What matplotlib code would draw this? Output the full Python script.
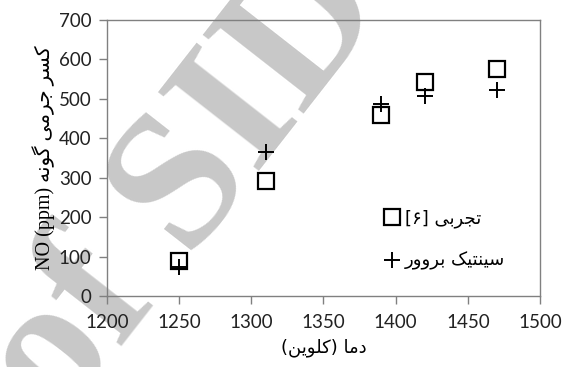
import matplotlib
matplotlib.use("Agg")
import matplotlib.pyplot as plt

# ---- data -------------------------------------------------------------------
temp_exp = [1250, 1310, 1390, 1420, 1470]
no_exp = [88, 292, 459, 543, 575]          # experiment [6]
temp_model = [1250, 1310, 1390, 1420, 1470]
no_model = [75, 364, 488, 508, 523]         # Brouwer kinetics

x_ticks = [1200, 1250, 1300, 1350, 1400, 1450, 1500]
y_ticks = [0, 100, 200, 300, 400, 500, 600, 700]

# Persian strings, already shaped (presentation forms) and in visual order,
# because matplotlib does no bidi / joining on its own
w_kasr = "\uFEAE\uFEB4\uFB90"              # کسر
w_jermi = "\uFBFD\uFEE3\uFEAE\uFE9F"       # جرمی
w_gune = "\uFEEA\uFEE7\uFEEE\uFB94"        # گونه
w_dama = "\uFE8E\uFEE3\uFEA9"              # دما
w_kelvin = "\uFEE6\uFBFE\uFEEE\uFEE0\uFB90"  # کلوین
w_tajrobi = "\uFBFD\uFE91\uFEAE\uFEA0\uFE97"  # تجربی
w_sinetik = "\uFB8F\uFBFF\uFE98\uFEE8\uFBFF\uFEB3"  # سینتیک
w_brouwer = "\uFEAD\uFEED\uFEED\uFEAE\uFE91"  # بروور

ylabel = "NO (ppm) " + w_gune + " " + w_jermi + " " + w_kasr
xlabel = "(" + w_kelvin + ") " + w_dama
lab_exp = "[\u06F6] " + w_tajrobi
lab_model = w_brouwer + " " + w_sinetik

fa = ["DejaVu Sans"]
lat = ["Liberation Serif", "DejaVu Sans"]
grey = "#808080"

fig = plt.figure(figsize=(5.68, 3.67), dpi=100)
ax = fig.add_axes([0.188, 0.193, 0.763, 0.753])
ax.set_facecolor("none")
ax.set_zorder(1)

# watermark behind the plot
fig.text(0.33, 0.49, "of SID", fontsize=140, fontweight="bold",
         family="Liberation Serif", color="#c8c8c8", rotation=52,
         ha="center", va="center", zorder=0)

ax.plot(temp_exp, no_exp, linestyle="none", marker="s", markersize=12,
        markerfacecolor="white", markeredgecolor="black", markeredgewidth=1.6,
        label=lab_exp)
ax.plot(temp_model, no_model, linestyle="none", marker="+", markersize=11,
        color="black", markeredgewidth=1.4, label=lab_model)

ax.set_xlim(1200, 1500)
ax.set_ylim(0, 700)
ax.set_xticks(x_ticks)
ax.set_yticks(y_ticks)
for s in ax.spines.values():
    s.set_color(grey)
    s.set_linewidth(1.0)
ax.tick_params(direction="out", length=6, width=1.0, color=grey,
               labelsize=13.5, labelcolor="#222222")
ax.tick_params(axis="x", pad=7)
ax.tick_params(axis="y", pad=5)
for t in ax.get_xticklabels() + ax.get_yticklabels():
    t.set_family(["Lato", "DejaVu Sans"])

ax.set_xlabel(xlabel, family=fa, fontsize=13, labelpad=5)
ax.set_ylabel(ylabel, family=lat, fontsize=14.5, labelpad=3)

leg = ax.legend(loc="lower right", bbox_to_anchor=(0.935, 0.067), frameon=False,
                prop={"family": fa, "size": 13}, handletextpad=0.1,
                handlelength=1.2, labelspacing=1.3, borderaxespad=0)

fig.savefig("out.png", dpi=100)
